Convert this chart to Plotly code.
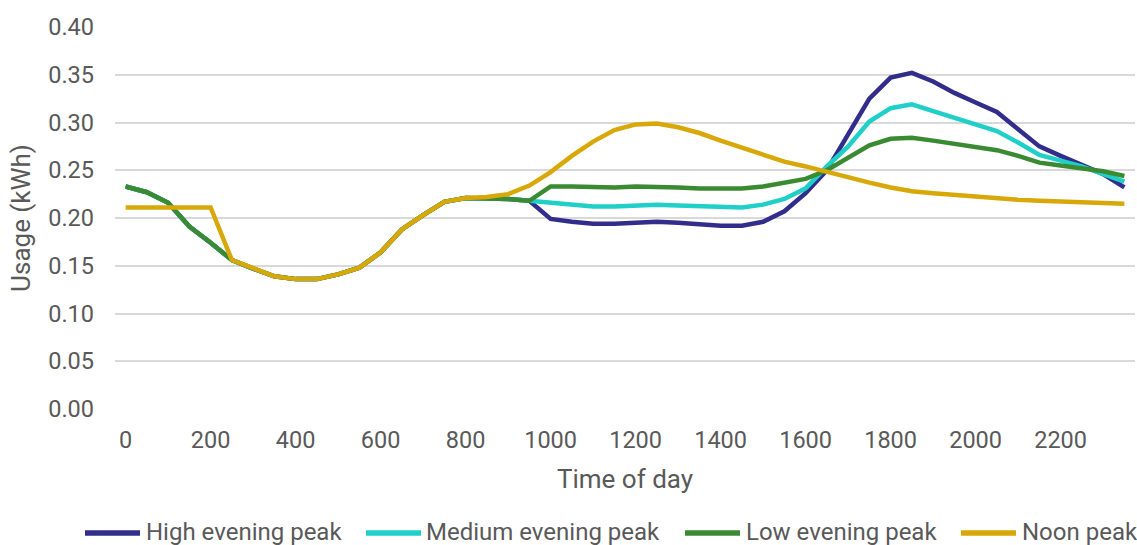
import plotly.graph_objects as go

# Half-hourly time slots (HHMM), 48 per day
times = [f"{h * 100 + m}" for h in range(24) for m in (0, 30)]

# Tick labels shown every 2 hours
tick_labels = [str(h * 100) for h in range(0, 24, 2)]

# Average usage per half hour (kWh)
high_evening = [
    0.233, 0.227, 0.216, 0.191, 0.174, 0.156, 0.147, 0.139, 0.136, 0.136,
    0.141, 0.148, 0.164, 0.188, 0.203, 0.217, 0.221, 0.221, 0.220, 0.218,
    0.199, 0.196, 0.194, 0.194, 0.195, 0.196, 0.195, 0.193, 0.192, 0.192,
    0.196, 0.207, 0.226, 0.250, 0.287, 0.325, 0.347, 0.352, 0.343, 0.331,
    0.321, 0.311, 0.293, 0.275, 0.265, 0.256, 0.246, 0.232,
]

medium_evening = [
    0.233, 0.227, 0.216, 0.191, 0.174, 0.156, 0.147, 0.139, 0.136, 0.136,
    0.141, 0.148, 0.164, 0.188, 0.203, 0.217, 0.221, 0.221, 0.220, 0.218,
    0.216, 0.214, 0.212, 0.212, 0.213, 0.214, 0.213, 0.212, 0.211, 0.211,
    0.214, 0.220, 0.231, 0.254, 0.275, 0.301, 0.315, 0.319, 0.312, 0.305,
    0.298, 0.291, 0.279, 0.266, 0.260, 0.254, 0.246, 0.238,
]

low_evening = [
    0.233, 0.227, 0.216, 0.191, 0.174, 0.156, 0.147, 0.139, 0.136, 0.136,
    0.141, 0.148, 0.164, 0.188, 0.203, 0.217, 0.221, 0.221, 0.220, 0.218,
    0.233, 0.233, 0.232, 0.232, 0.233, 0.233, 0.232, 0.231, 0.231, 0.231,
    0.233, 0.237, 0.241, 0.250, 0.263, 0.276, 0.283, 0.284, 0.281, 0.278,
    0.275, 0.271, 0.265, 0.258, 0.255, 0.252, 0.249, 0.244,
]

noon = [
    0.211, 0.211, 0.211, 0.211, 0.211, 0.156, 0.147, 0.139, 0.136, 0.136,
    0.141, 0.148, 0.164, 0.188, 0.203, 0.217, 0.221, 0.222, 0.225, 0.234,
    0.248, 0.265, 0.280, 0.292, 0.298, 0.299, 0.295, 0.289, 0.281, 0.274,
    0.267, 0.259, 0.254, 0.248, 0.242, 0.237, 0.232, 0.228, 0.226, 0.224,
    0.222, 0.221, 0.219, 0.218, 0.217, 0.216, 0.215, 0.215,
]

series_names = ["High evening peak", "Medium evening peak", "Low evening peak", "Noon peak"]
series_values = [high_evening, medium_evening, low_evening, noon]
series_colors = ["#322D8B", "#1FCFC8", "#3A8A32", "#D8A809"]

FONT = "Roboto"
TEXT = "#595959"
GRID = "#D9D9D9"

W, H = 1137, 545
ML, MR, MT, MB = 115, 2, 27, 136
PLOT_W = W - ML - MR
PLOT_H = H - MT - MB

fig = go.Figure()
for name, vals, color in zip(series_names, series_values, series_colors):
    fig.add_trace(go.Scatter(
        x=times, y=vals, name=name, mode="lines",
        line=dict(color=color, width=4.5),
        showlegend=False,
    ))

# Legend row below the axis: a short coloured line followed by the series name
def px_to_paper_x(px):
    return (px - ML) / PLOT_W

def px_to_paper_y(py):
    return (H - MB - py) / PLOT_H

legend_line_x = [(85, 140), (366, 421), (685, 740), (961, 1016)]
legend_text_x = [144, 424, 744, 1020]
legend_y = 533

for (x0, x1), tx, name, color in zip(legend_line_x, legend_text_x, series_names, series_colors):
    fig.add_shape(
        type="line", xref="paper", yref="paper",
        x0=px_to_paper_x(x0), x1=px_to_paper_x(x1),
        y0=px_to_paper_y(legend_y), y1=px_to_paper_y(legend_y),
        line=dict(color=color, width=5.5),
    )
    fig.add_annotation(
        text=name, xref="paper", yref="paper",
        x=px_to_paper_x(tx), y=px_to_paper_y(legend_y - 1),
        xanchor="left", yanchor="middle", showarrow=False,
        font=dict(family=FONT, size=24, color=TEXT),
    )

fig.update_layout(
    width=W, height=H,
    margin=dict(l=ML, r=MR, t=MT, b=MB, autoexpand=False),
    paper_bgcolor="white", plot_bgcolor="white",
    font=dict(family=FONT, size=23.5, color=TEXT),
    showlegend=False,
)

fig.update_xaxes(
    type="category", range=[-0.5, 47.5],
    tickmode="array", tickvals=tick_labels, ticktext=tick_labels,
    showgrid=False, showline=False, zeroline=False, ticks="",
    ticklabelstandoff=14, automargin=False,
    title=dict(text="Time of day", font=dict(family=FONT, size=26, color=TEXT), standoff=17),
)
fig.update_yaxes(
    range=[0, 0.40], dtick=0.05, tickformat=".2f",
    showgrid=True, gridcolor=GRID, gridwidth=1.5,
    zeroline=False, showline=False, ticks="",
    ticklabelstandoff=20, automargin=False,
    title=dict(text="Usage (kWh)", font=dict(family=FONT, size=26, color=TEXT), standoff=10),
)

fig.write_html("out.html")
